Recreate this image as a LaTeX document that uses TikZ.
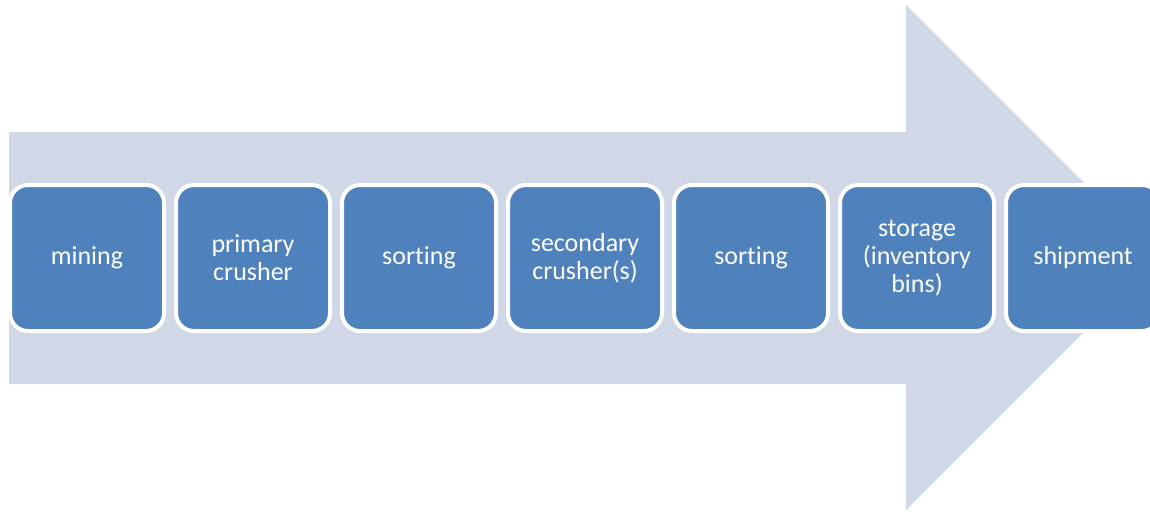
\documentclass[tikz,border=0pt]{standalone}
\usepackage{fontspec}
\setmainfont{Carlito}[Ligatures=NoCommon]
\usepackage{tikz}
\usetikzlibrary{positioning}

\definecolor{flowpale}{HTML}{D0D8E8}
\definecolor{flowblue}{HTML}{4F81BD}

\begin{document}
\begin{tikzpicture}[x=1pt,y=-1pt]
\tikzstyle{stage}=[draw=white, fill=flowblue, line width=4pt, rounded corners=18pt,
  minimum width=154pt, minimum height=146pt, inner sep=0pt, outer sep=0pt, text=white,
  align=center, font={\fontsize{26}{28}\selectfont}]
\useasboundingbox (0,0) rectangle (1150,511);
\clip (0,0) rectangle (1150,511);
% big background arrow
\fill [flowpale] (9,132) -- (906,132) -- (906,5) -- (1158.5,257.5) -- (906,510) -- (906,384) -- (9,384) -- cycle;
% process steps
\node [stage] (mining) at (87,258) {mining};
\node [stage, right=12pt of mining] (primary) {primary\\crusher};
\node [stage, right=12pt of primary] (sortA) {sorting};
\node [stage, right=12pt of sortA] (secondary) {secondary\\crusher(s)};
\node [stage, right=12pt of secondary] (sortB) {sorting};
\node [stage, right=12pt of sortB] (storage) {storage\\(inventory\\bins)};
\node [stage, right=12pt of storage] (shipment) {shipment};
\end{tikzpicture}
\end{document}
